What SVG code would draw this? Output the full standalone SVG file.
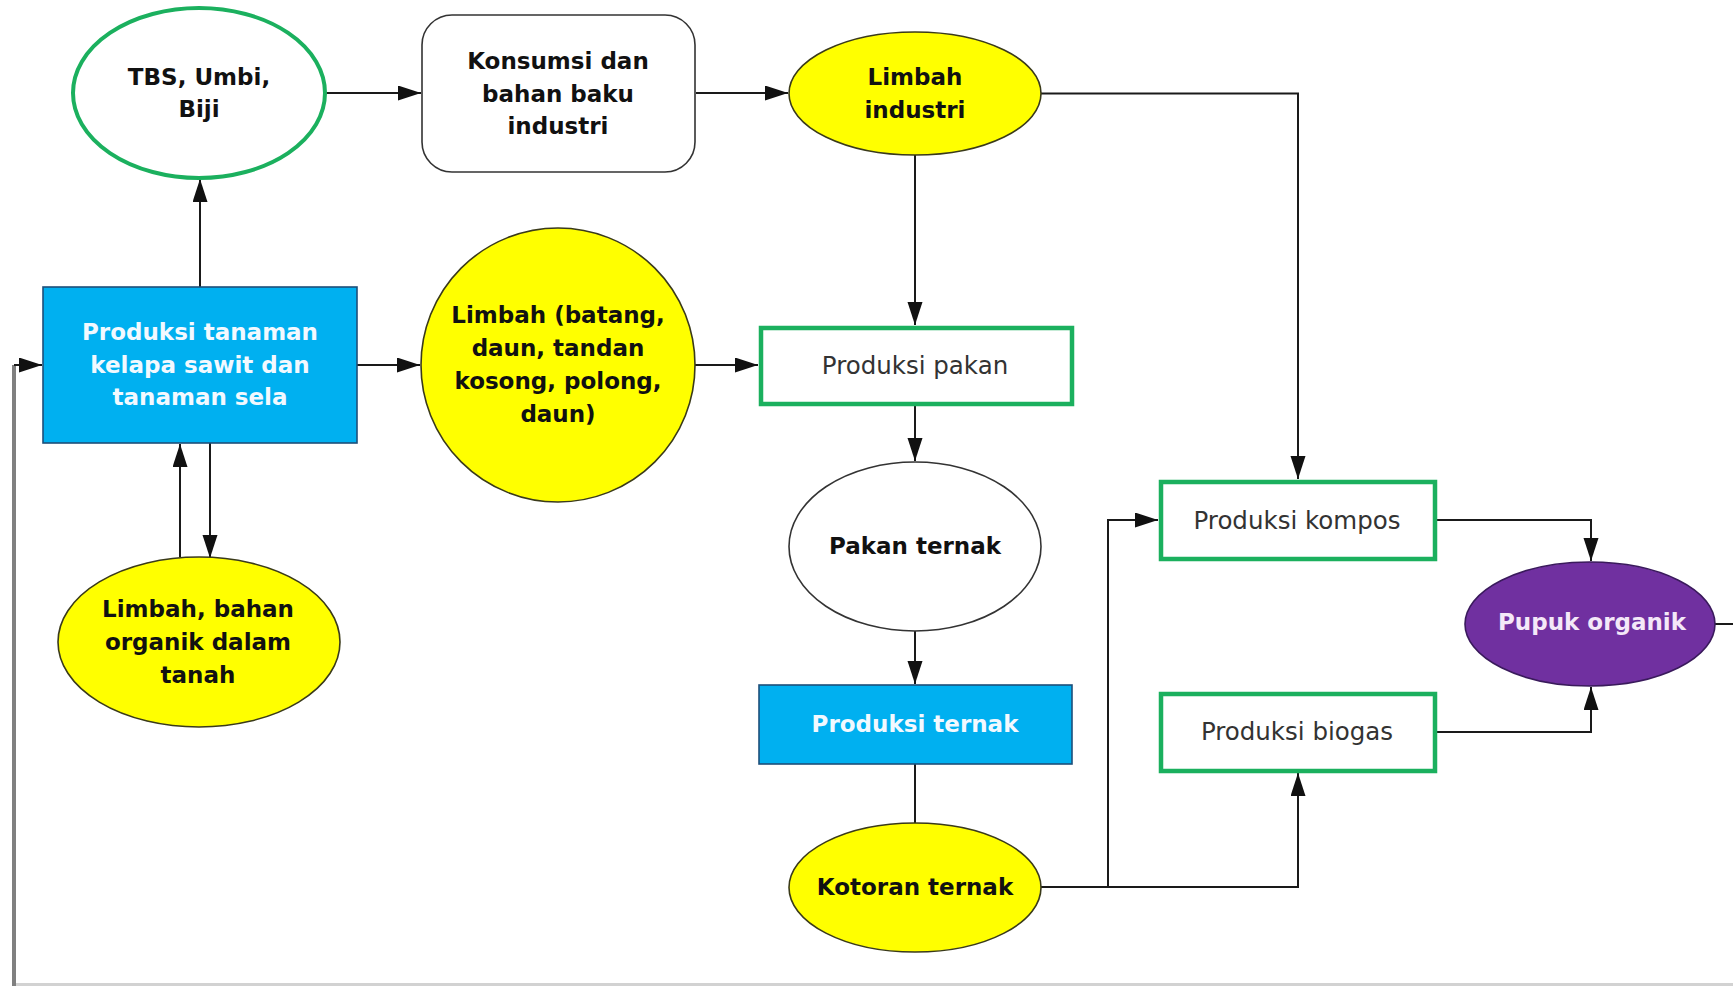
<svg xmlns="http://www.w3.org/2000/svg" width="1733" height="986" viewBox="0 0 1733 986">
  <defs>
    <marker id="arrow" markerUnits="userSpaceOnUse" markerWidth="24" markerHeight="16" refX="23" refY="7.5" orient="auto">
      <path d="M0,0 L23,7.5 L0,15 z" fill="#111"/>
    </marker>
    <style>
      .lbl { font-family: "DejaVu Sans", Verdana, sans-serif; font-weight: bold; font-size: 23px; fill: #111; text-anchor: middle; }
      .reg { font-family: "DejaVu Sans", Verdana, sans-serif; font-size: 24.5px; fill: #333; text-anchor: middle; }
      .white { fill: #f2f9ff; }
      .lilac { fill: #f4e8f8; }
      .yellow { fill: #ffff00; stroke: #3a3a1a; stroke-width: 1.6; }
      .blue { fill: #00b0f0; stroke: #1d4f7a; stroke-width: 1.6; }
      .greenbox { fill: #ffffff; stroke: #1bb05e; stroke-width: 4.5; }
      .plain { fill: #ffffff; stroke: #333333; stroke-width: 1.6; }
      .conn { fill: none; stroke: #1a1a1a; stroke-width: 2; }
      .loop { fill: none; stroke: #808080; stroke-width: 4; }
    </style>
  </defs>

  <rect width="1733" height="986" fill="#ffffff"/>

  <!-- connectors -->
  <g id="connectors">
    <!-- return loop along the bottom and left edge -->
    <rect x="12" y="983" width="1721" height="3" fill="#d2d2d2"/>
    <path class="loop" d="M14,986 V365"/>
    <path class="conn" d="M14,365 H42" marker-end="url(#arrow)"/>
    <path class="conn" d="M1715,624 H1733"/>

    <path class="conn" d="M325,93 H421" marker-end="url(#arrow)"/>
    <path class="conn" d="M696,93 H788" marker-end="url(#arrow)"/>
    <path class="conn" d="M1041,93.5 H1298 V479" marker-end="url(#arrow)"/>
    <path class="conn" d="M915,155 V325" marker-end="url(#arrow)"/>

    <path class="conn" d="M200,287 V179" marker-end="url(#arrow)"/>
    <path class="conn" d="M357,365 H420" marker-end="url(#arrow)"/>
    <path class="conn" d="M695,365 H758" marker-end="url(#arrow)"/>
    <path class="conn" d="M180,557 V444" marker-end="url(#arrow)"/>
    <path class="conn" d="M210,443 V558" marker-end="url(#arrow)"/>

    <path class="conn" d="M915,406 V461" marker-end="url(#arrow)"/>
    <path class="conn" d="M915,631 V684" marker-end="url(#arrow)"/>
    <path class="conn" d="M915,764 V823"/>

    <path class="conn" d="M1041,887 H1108 V520 H1158" marker-end="url(#arrow)"/>
    <path class="conn" d="M1041,887 H1298 V773" marker-end="url(#arrow)"/>
    <path class="conn" d="M1436,520 H1591 V561" marker-end="url(#arrow)"/>
    <path class="conn" d="M1436,732 H1591 V687" marker-end="url(#arrow)"/>
  </g>

  <g id="tbs">
    <ellipse cx="199" cy="93" rx="126" ry="85" fill="#ffffff" stroke="#1bb05e" stroke-width="4"/>
    <text class="lbl" x="199" y="85">TBS, Umbi,<tspan x="199" dy="32">Biji</tspan></text>
  </g>

  <g id="konsumsi">
    <rect class="plain" x="422" y="15" width="273" height="157" rx="30" ry="30"/>
    <text class="lbl" x="558" y="69">Konsumsi dan<tspan x="558" dy="32.5">bahan baku</tspan><tspan x="558" dy="32.5">industri</tspan></text>
  </g>

  <g id="limbah-industri">
    <ellipse class="yellow" cx="915" cy="93.5" rx="126" ry="61.5"/>
    <text class="lbl" x="915" y="85">Limbah<tspan x="915" dy="33">industri</tspan></text>
  </g>

  <g id="produksi-tanaman">
    <rect class="blue" x="43" y="287" width="314" height="156"/>
    <text class="lbl white" x="200" y="340">Produksi tanaman<tspan x="200" dy="32.5">kelapa sawit dan</tspan><tspan x="200" dy="32.5">tanaman sela</tspan></text>
  </g>

  <g id="limbah-batang">
    <ellipse class="yellow" cx="558" cy="365" rx="137" ry="137"/>
    <text class="lbl" x="558" y="323">Limbah (batang,<tspan x="558" dy="33">daun, tandan</tspan><tspan x="558" dy="33">kosong, polong,</tspan><tspan x="558" dy="33">daun)</tspan></text>
  </g>

  <g id="limbah-tanah">
    <ellipse class="yellow" cx="199" cy="642" rx="141" ry="85"/>
    <text class="lbl" x="198" y="617">Limbah, bahan<tspan x="198" dy="33">organik dalam</tspan><tspan x="198" dy="33">tanah</tspan></text>
  </g>

  <g id="produksi-pakan">
    <rect class="greenbox" x="761" y="328" width="311" height="76"/>
    <text class="reg" x="915" y="374">Produksi pakan</text>
  </g>

  <g id="pakan-ternak">
    <ellipse class="plain" cx="915" cy="546.5" rx="126" ry="84.5"/>
    <text class="lbl" x="915" y="554">Pakan ternak</text>
  </g>

  <g id="produksi-ternak">
    <rect class="blue" x="759" y="685" width="313" height="79"/>
    <text class="lbl white" x="915" y="732">Produksi ternak</text>
  </g>

  <g id="kotoran-ternak">
    <ellipse class="yellow" cx="915" cy="887.5" rx="126" ry="64.5"/>
    <text class="lbl" x="915" y="895">Kotoran ternak</text>
  </g>

  <g id="produksi-kompos">
    <rect class="greenbox" x="1161" y="482" width="274" height="77"/>
    <text class="reg" x="1297" y="529">Produksi kompos</text>
  </g>

  <g id="produksi-biogas">
    <rect class="greenbox" x="1161" y="694" width="274" height="77"/>
    <text class="reg" x="1297" y="740">Produksi biogas</text>
  </g>

  <g id="pupuk-organik">
    <ellipse cx="1590" cy="624" rx="125" ry="62" fill="#7030a0" stroke="#3a1a5c" stroke-width="1.6"/>
    <text class="lbl lilac" x="1592" y="630">Pupuk organik</text>
  </g>
</svg>
